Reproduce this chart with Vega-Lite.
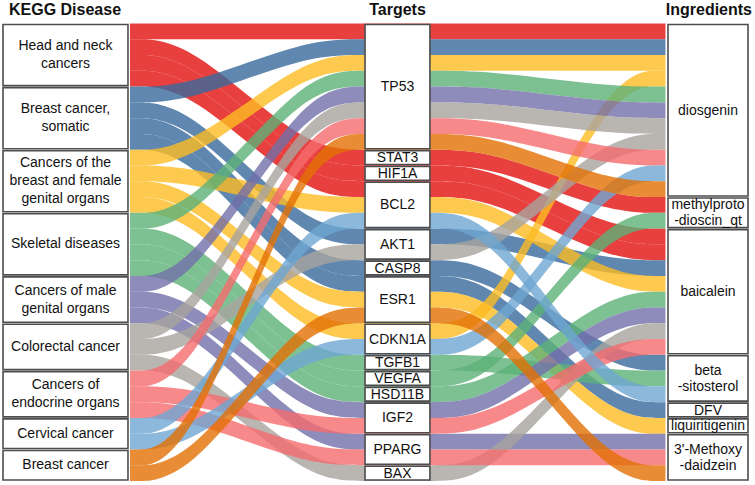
{
  "$schema": "https://vega.github.io/schema/vega-lite/v6.json",
  "width": 755,
  "height": 485,
  "autosize": {"type": "fit", "contains": "padding"},
  "padding": 0,
  "background": "white",
  "config": {"view": {"stroke": null}, "text": {"font": "Liberation Sans"}},
  "datasets": {
    "alluvia": [
      {"disease": "Head and neck cancers", "target": "TP53", "ingredient": "diosgenin", "w": 1},
      {"disease": "Head and neck cancers", "target": "STAT3", "ingredient": "methylprotodioscin_qt", "w": 1},
      {"disease": "Head and neck cancers", "target": "HIF1A", "ingredient": "baicalein", "w": 1},
      {"disease": "Head and neck cancers", "target": "BCL2", "ingredient": "baicalein", "w": 1},
      {"disease": "Breast cancer, somatic", "target": "TP53", "ingredient": "diosgenin", "w": 1},
      {"disease": "Breast cancer, somatic", "target": "AKT1", "ingredient": "baicalein", "w": 1},
      {"disease": "Breast cancer, somatic", "target": "CASP8", "ingredient": "beta-sitosterol", "w": 1},
      {"disease": "Breast cancer, somatic", "target": "ESR1", "ingredient": "DFV", "w": 1},
      {"disease": "Cancers of the breast and female genital organs", "target": "TP53", "ingredient": "diosgenin", "w": 1},
      {"disease": "Cancers of the breast and female genital organs", "target": "BCL2", "ingredient": "baicalein", "w": 1},
      {"disease": "Cancers of the breast and female genital organs", "target": "ESR1", "ingredient": "liquiritigenin", "w": 1},
      {"disease": "Cancers of the breast and female genital organs", "target": "CDKN1A", "ingredient": "diosgenin", "w": 1},
      {"disease": "Skeletal diseases", "target": "TP53", "ingredient": "diosgenin", "w": 1},
      {"disease": "Skeletal diseases", "target": "TGFB1", "ingredient": "beta-sitosterol", "w": 1},
      {"disease": "Skeletal diseases", "target": "VEGFA", "ingredient": "methylprotodioscin_qt", "w": 1},
      {"disease": "Skeletal diseases", "target": "HSD11B", "ingredient": "baicalein", "w": 1},
      {"disease": "Cancers of male genital organs", "target": "TP53", "ingredient": "diosgenin", "w": 1},
      {"disease": "Cancers of male genital organs", "target": "IGF2", "ingredient": "baicalein", "w": 1},
      {"disease": "Cancers of male genital organs", "target": "PPARG", "ingredient": "3'-Methoxydaidzein", "w": 1},
      {"disease": "Colorectal cancer", "target": "TP53", "ingredient": "diosgenin", "w": 1},
      {"disease": "Colorectal cancer", "target": "AKT1", "ingredient": "diosgenin", "w": 1},
      {"disease": "Colorectal cancer", "target": "BAX", "ingredient": "baicalein", "w": 1},
      {"disease": "Cancers of endocrine organs", "target": "TP53", "ingredient": "diosgenin", "w": 1},
      {"disease": "Cancers of endocrine organs", "target": "IGF2", "ingredient": "baicalein", "w": 1},
      {"disease": "Cancers of endocrine organs", "target": "PPARG", "ingredient": "3'-Methoxydaidzein", "w": 1},
      {"disease": "Cervical cancer", "target": "BCL2", "ingredient": "beta-sitosterol", "w": 1},
      {"disease": "Cervical cancer", "target": "CDKN1A", "ingredient": "diosgenin", "w": 1},
      {"disease": "Breast cancer", "target": "TP53", "ingredient": "diosgenin", "w": 1},
      {"disease": "Breast cancer", "target": "ESR1", "ingredient": "3'-Methoxydaidzein", "w": 1}
    ],
    "nodes": [
      {"name": "Head and neck cancers", "axis": "Disease", "rank": 0, "label": "Head and neck\ncancers"},
      {"name": "Breast cancer, somatic", "axis": "Disease", "rank": 1, "label": "Breast cancer,\nsomatic"},
      {"name": "Cancers of the breast and female genital organs", "axis": "Disease", "rank": 2, "label": "Cancers of the\nbreast and female\ngenital organs"},
      {"name": "Skeletal diseases", "axis": "Disease", "rank": 3, "label": "Skeletal diseases"},
      {"name": "Cancers of male genital organs", "axis": "Disease", "rank": 4, "label": "Cancers of male\ngenital organs"},
      {"name": "Colorectal cancer", "axis": "Disease", "rank": 5, "label": "Colorectal cancer"},
      {"name": "Cancers of endocrine organs", "axis": "Disease", "rank": 6, "label": "Cancers of\nendocrine organs"},
      {"name": "Cervical cancer", "axis": "Disease", "rank": 7, "label": "Cervical cancer"},
      {"name": "Breast cancer", "axis": "Disease", "rank": 8, "label": "Breast cancer"},
      {"name": "TP53", "axis": "Target", "rank": 0, "label": "TP53"},
      {"name": "STAT3", "axis": "Target", "rank": 1, "label": "STAT3"},
      {"name": "HIF1A", "axis": "Target", "rank": 2, "label": "HIF1A"},
      {"name": "BCL2", "axis": "Target", "rank": 3, "label": "BCL2"},
      {"name": "AKT1", "axis": "Target", "rank": 4, "label": "AKT1"},
      {"name": "CASP8", "axis": "Target", "rank": 5, "label": "CASP8"},
      {"name": "ESR1", "axis": "Target", "rank": 6, "label": "ESR1"},
      {"name": "CDKN1A", "axis": "Target", "rank": 7, "label": "CDKN1A"},
      {"name": "TGFB1", "axis": "Target", "rank": 8, "label": "TGFB1"},
      {"name": "VEGFA", "axis": "Target", "rank": 9, "label": "VEGFA"},
      {"name": "HSD11B", "axis": "Target", "rank": 10, "label": "HSD11B"},
      {"name": "IGF2", "axis": "Target", "rank": 11, "label": "IGF2"},
      {"name": "PPARG", "axis": "Target", "rank": 12, "label": "PPARG"},
      {"name": "BAX", "axis": "Target", "rank": 13, "label": "BAX"},
      {"name": "diosgenin", "axis": "Ingredient", "rank": 0, "label": "diosgenin"},
      {"name": "methylprotodioscin_qt", "axis": "Ingredient", "rank": 1, "label": "methylproto\n-dioscin_qt"},
      {"name": "baicalein", "axis": "Ingredient", "rank": 2, "label": "baicalein"},
      {"name": "beta-sitosterol", "axis": "Ingredient", "rank": 3, "label": "beta\n-sitosterol"},
      {"name": "DFV", "axis": "Ingredient", "rank": 4, "label": "DFV"},
      {"name": "liquiritigenin", "axis": "Ingredient", "rank": 5, "label": "liquiritigenin"},
      {"name": "3'-Methoxydaidzein", "axis": "Ingredient", "rank": 6, "label": "3'-Methoxy\n-daidzein"}
    ],
    "axes": [
      {"axis": "Disease", "title": "KEGG Disease", "left": 0.687, "right": 1.103, "center": 0.895},
      {"axis": "Target", "title": "Targets", "left": 1.892, "right": 2.108, "center": 2.0},
      {"axis": "Ingredient", "title": "Ingredients", "left": 2.9004, "right": 3.1667, "center": 3.0336}
    ],
    "ctrl": [
      {"k": "yD0", "xs": [1.1097, 1.3044]},
      {"k": "yT0", "xs": [1.6939, 1.8886, 2.1149, 2.3092]},
      {"k": "yI0", "xs": [2.6977, 2.892]}
    ]
  },
  "layer": [
    {
      "data": {"name": "alluvia"},
      "transform": [
        {"lookup": "disease", "from": {"data": {"name": "nodes"}, "key": "name", "fields": ["rank"]}, "as": ["dRank"]},
        {"lookup": "target", "from": {"data": {"name": "nodes"}, "key": "name", "fields": ["rank"]}, "as": ["tRank"]},
        {"lookup": "ingredient", "from": {"data": {"name": "nodes"}, "key": "name", "fields": ["rank"]}, "as": ["iRank"]},
        {"stack": "w", "groupby": [], "sort": [{"field": "dRank", "order": "ascending"}, {"field": "tRank", "order": "ascending"}], "as": ["yD0", "yD1"]},
        {"stack": "w", "groupby": [], "sort": [{"field": "tRank", "order": "ascending"}, {"field": "dRank", "order": "ascending"}], "as": ["yT0", "yT1"]},
        {"stack": "w", "groupby": [], "sort": [{"field": "iRank", "order": "ascending"}, {"field": "dRank", "order": "ascending"}, {"field": "tRank", "order": "ascending"}], "as": ["yI0", "yI1"]},
        {"fold": ["yD0", "yT0", "yI0"], "as": ["k", "top"]},
        {"lookup": "k", "from": {"data": {"name": "ctrl"}, "key": "k", "fields": ["xs"]}},
        {"flatten": ["xs"]},
        {"stack": "w", "groupby": ["xs"], "sort": [{"field": "top", "order": "ascending"}], "as": ["y0", "y1"]}
      ],
      "mark": {"type": "area", "interpolate": "basis", "fillOpacity": 0.8},
      "encoding": {
        "x": {"field": "xs", "type": "quantitative", "scale": {"domain": [0.677, 3.19], "nice": false, "zero": false}, "axis": null},
        "y": {"field": "y0", "type": "quantitative", "stack": null, "scale": {"domain": [-1.4896, 29.253], "reverse": true, "nice": false, "zero": false}, "axis": null},
        "y2": {"field": "y1"},
        "color": {
          "field": "disease", "type": "nominal", "legend": null,
          "scale": {
            "domain": ["Head and neck cancers", "Breast cancer, somatic", "Cancers of the breast and female genital organs", "Skeletal diseases", "Cancers of male genital organs", "Colorectal cancer", "Cancers of endocrine organs", "Cervical cancer", "Breast cancer"],
            "range": ["#E2100E", "#37699B", "#FDBC23", "#5DB278", "#726FA9", "#A7A49F", "#F56C6E", "#6EA6D2", "#E27104"]
          }
        },
        "detail": [{"field": "disease"}, {"field": "target"}, {"field": "ingredient"}]
      }
    },
    {
      "data": {"name": "alluvia"},
      "transform": [
        {"lookup": "disease", "from": {"data": {"name": "nodes"}, "key": "name", "fields": ["rank", "label", "axis"]}},
        {"stack": "w", "groupby": [], "sort": [{"field": "rank", "order": "ascending"}], "as": ["y0", "y1"]},
        {"lookup": "axis", "from": {"data": {"name": "axes"}, "key": "axis", "fields": ["left", "right", "center"]}}
      ],
      "layer": [
        {
          "mark": {"type": "rect", "fill": "white", "stroke": "#4d4d4d", "strokeWidth": 1.6, "yOffset": 1, "y2Offset": -1},
          "encoding": {
            "x": {"field": "left", "type": "quantitative", "scale": {"domain": [0.677, 3.19], "nice": false, "zero": false}, "axis": null},
            "x2": {"field": "right"},
            "y": {"aggregate": "min", "field": "y0", "type": "quantitative", "scale": {"domain": [-1.4896, 29.253], "reverse": true, "nice": false, "zero": false}, "axis": null},
            "y2": {"aggregate": "max", "field": "y1"},
            "detail": {"field": "disease"}
          }
        },
        {
          "transform": [{"fold": ["y0", "y1"], "as": ["e", "v"]}],
          "mark": {"type": "text", "fontSize": 14, "lineHeight": 18, "lineBreak": "\n", "align": "center", "baseline": "middle", "color": "#111111", "dy": {"expr": "-(length(split(datum.label, '\\n')) - 1) * 9"}},
          "encoding": {
            "x": {"field": "center", "type": "quantitative", "scale": {"domain": [0.677, 3.19], "nice": false, "zero": false}, "axis": null},
            "y": {"aggregate": "mean", "field": "v", "type": "quantitative", "scale": {"domain": [-1.4896, 29.253], "reverse": true, "nice": false, "zero": false}, "axis": null},
            "text": {"field": "label"}
          }
        }
      ]
    },
    {
      "data": {"name": "alluvia"},
      "transform": [
        {"lookup": "target", "from": {"data": {"name": "nodes"}, "key": "name", "fields": ["rank", "label", "axis"]}},
        {"stack": "w", "groupby": [], "sort": [{"field": "rank", "order": "ascending"}], "as": ["y0", "y1"]},
        {"lookup": "axis", "from": {"data": {"name": "axes"}, "key": "axis", "fields": ["left", "right", "center"]}}
      ],
      "layer": [
        {
          "mark": {"type": "rect", "fill": "white", "stroke": "#4d4d4d", "strokeWidth": 1.6, "yOffset": 1, "y2Offset": -1},
          "encoding": {
            "x": {"field": "left", "type": "quantitative", "scale": {"domain": [0.677, 3.19], "nice": false, "zero": false}, "axis": null},
            "x2": {"field": "right"},
            "y": {"aggregate": "min", "field": "y0", "type": "quantitative", "scale": {"domain": [-1.4896, 29.253], "reverse": true, "nice": false, "zero": false}, "axis": null},
            "y2": {"aggregate": "max", "field": "y1"},
            "detail": {"field": "target"}
          }
        },
        {
          "transform": [{"fold": ["y0", "y1"], "as": ["e", "v"]}],
          "mark": {"type": "text", "fontSize": 14, "lineHeight": 18, "lineBreak": "\n", "align": "center", "baseline": "middle", "dy": 0.5, "color": "#111111"},
          "encoding": {
            "x": {"field": "center", "type": "quantitative", "scale": {"domain": [0.677, 3.19], "nice": false, "zero": false}, "axis": null},
            "y": {"aggregate": "mean", "field": "v", "type": "quantitative", "scale": {"domain": [-1.4896, 29.253], "reverse": true, "nice": false, "zero": false}, "axis": null},
            "text": {"field": "label"}
          }
        }
      ]
    },
    {
      "data": {"name": "alluvia"},
      "transform": [
        {"lookup": "ingredient", "from": {"data": {"name": "nodes"}, "key": "name", "fields": ["rank", "label", "axis"]}},
        {"stack": "w", "groupby": [], "sort": [{"field": "rank", "order": "ascending"}], "as": ["y0", "y1"]},
        {"lookup": "axis", "from": {"data": {"name": "axes"}, "key": "axis", "fields": ["left", "right", "center"]}}
      ],
      "layer": [
        {
          "mark": {"type": "rect", "fill": "white", "stroke": "#4d4d4d", "strokeWidth": 1.6, "yOffset": 1, "y2Offset": -1},
          "encoding": {
            "x": {"field": "left", "type": "quantitative", "scale": {"domain": [0.677, 3.19], "nice": false, "zero": false}, "axis": null},
            "x2": {"field": "right"},
            "y": {"aggregate": "min", "field": "y0", "type": "quantitative", "scale": {"domain": [-1.4896, 29.253], "reverse": true, "nice": false, "zero": false}, "axis": null},
            "y2": {"aggregate": "max", "field": "y1"},
            "detail": {"field": "ingredient"}
          }
        },
        {
          "transform": [{"fold": ["y0", "y1"], "as": ["e", "v"]}],
          "mark": {"type": "text", "fontSize": 14, "lineHeight": 16, "lineBreak": "\n", "align": "center", "baseline": "middle", "color": "#111111", "dy": {"expr": "-(length(split(datum.label, '\\n')) - 1) * 8 + 0.5"}},
          "encoding": {
            "x": {"field": "center", "type": "quantitative", "scale": {"domain": [0.677, 3.19], "nice": false, "zero": false}, "axis": null},
            "y": {"aggregate": "mean", "field": "v", "type": "quantitative", "scale": {"domain": [-1.4896, 29.253], "reverse": true, "nice": false, "zero": false}, "axis": null},
            "text": {"field": "label"}
          }
        }
      ]
    },
    {
      "data": {"name": "axes"},
      "layer": [
        {
          "transform": [{"filter": "datum.axis === 'Disease'"}],
          "mark": {"type": "text", "align": "left", "dx": 6, "baseline": "alphabetic", "fontSize": 16, "fontWeight": "bold", "color": "#111111"},
          "encoding": {
            "x": {"field": "left", "type": "quantitative", "scale": {"domain": [0.677, 3.19], "nice": false, "zero": false}, "axis": null},
            "y": {"datum": -0.55, "type": "quantitative", "scale": {"domain": [-1.4896, 29.253], "reverse": true, "nice": false, "zero": false}, "axis": null},
            "text": {"field": "title"}
          }
        },
        {
          "transform": [{"filter": "datum.axis === 'Target'"}],
          "mark": {"type": "text", "align": "center", "baseline": "alphabetic", "fontSize": 16, "fontWeight": "bold", "color": "#111111"},
          "encoding": {
            "x": {"field": "center", "type": "quantitative", "scale": {"domain": [0.677, 3.19], "nice": false, "zero": false}, "axis": null},
            "y": {"datum": -0.55, "type": "quantitative", "scale": {"domain": [-1.4896, 29.253], "reverse": true, "nice": false, "zero": false}, "axis": null},
            "text": {"field": "title"}
          }
        },
        {
          "transform": [{"filter": "datum.axis === 'Ingredient'"}],
          "mark": {"type": "text", "align": "right", "dx": 4, "baseline": "alphabetic", "fontSize": 16, "fontWeight": "bold", "color": "#111111"},
          "encoding": {
            "x": {"field": "right", "type": "quantitative", "scale": {"domain": [0.677, 3.19], "nice": false, "zero": false}, "axis": null},
            "y": {"datum": -0.55, "type": "quantitative", "scale": {"domain": [-1.4896, 29.253], "reverse": true, "nice": false, "zero": false}, "axis": null},
            "text": {"field": "title"}
          }
        }
      ]
    }
  ]
}
